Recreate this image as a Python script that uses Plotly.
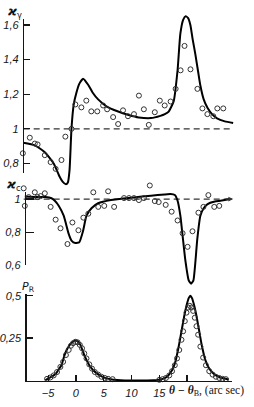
import plotly.graph_objects as go

W, H = 254, 407

# ---------------- data ----------------
# panel 1: kappa_gamma
theta_gamma_curve = [-9.5, -7.4, -5.6, -4.0, -2.95, -2.4, -1.8, -1.45, -1.15, -0.8, -0.4, 0.1, 0.6, 1.3, 2.2,
                     3.0, 4.0, 5.5, 7.6, 9.5, 11.3, 13.5, 15.2, 16.0, 16.7, 17.6, 18.3, 18.8, 19.3, 19.75,
                     20.2, 20.6, 21.0, 21.5, 22.0, 22.4, 23.0, 23.7, 24.5, 25.4, 26.8, 28.3]
kappa_gamma_curve = [0.92, 0.905, 0.865, 0.80, 0.725, 0.695, 0.68, 0.69, 0.76, 1.0, 1.14, 1.21, 1.26, 1.29, 1.255,
                     1.21, 1.17, 1.13, 1.10, 1.08, 1.066, 1.062, 1.075, 1.085, 1.10, 1.16, 1.34, 1.55, 1.63, 1.65,
                     1.64, 1.60, 1.52, 1.43, 1.33, 1.25, 1.17, 1.12, 1.085, 1.06, 1.043, 1.034]
theta_gamma_pts = [-9.55, -8.3, -7.4, -6.9, -5.6, -4.55, -3.65, -2.6, -1.9, -0.8, -0.1, 0.98, 1.87, 2.77, 3.84,
                   4.9, 5.62, 6.7, 7.6, 8.48, 9.37, 10.45, 11.34, 12.23, 13.12, 14.2, 15.1, 15.98, 17.05, 17.95,
                   18.84, 19.55, 20.62, 21.87, 22.77, 23.66, 24.73, 25.45, 26.52]
kappa_gamma_pts = [0.859, 0.949, 0.915, 0.910, 0.848, 0.808, 0.769, 0.820, 0.955, 1.0, 1.141, 1.124, 1.163, 1.101,
                   1.101, 1.135, 1.113, 1.068, 1.028, 1.107, 1.073, 1.085, 1.192, 1.113, 1.023, 1.096, 1.163, 1.135,
                   1.158, 1.231, 1.338, 1.479, 1.344, 1.231, 1.118, 1.085, 1.073, 1.118, 1.118]

# panel 2: kappa_c
theta_c_curve = [-9.2, -7.0, -5.5, -4.4, -3.8, -3.1, -2.2, -1.3, -0.8, -0.1, 0.6, 1.3, 1.9, 2.8, 4.0, 6.3, 10.4,
                 13.5, 16.0, 17.0, 17.8, 18.3, 18.8, 19.2, 19.7, 20.3, 20.75, 21.15, 21.5, 21.85, 22.4, 23.0,
                 23.7, 25.0, 26.0, 27.8]
kappa_c_curve = [1.015, 1.012, 1.012, 1.005, 0.99, 0.96, 0.90, 0.79, 0.75, 0.735, 0.74, 0.81, 0.90, 0.945, 0.975,
                 0.995, 1.01, 1.02, 1.028, 1.03, 1.025, 0.99, 0.90, 0.78, 0.63, 0.51, 0.49, 0.51, 0.62, 0.76,
                 0.90, 0.945, 0.97, 0.985, 0.99, 1.0]
theta_c_pts = [-9.4, -9.2, -8.5, -7.4, -6.9, -6.35, -5.6, -4.55, -3.65, -2.77, -1.52, -0.63, 0.45, 1.34, 2.23,
               3.13, 4.02, 5.1, 5.8, 6.88, 8.66, 9.55, 10.45, 11.34, 12.23, 13.3, 14.2, 14.9, 16.16, 17.23,
               18.3, 19.2, 20.1, 20.98, 22.05, 22.95, 23.84, 24.9, 25.8]
kappa_c_pts = [1.065, 0.959, 1.012, 1.041, 1.012, 1.018, 1.035, 0.953, 0.876, 0.824, 0.729, 0.859, 0.812, 0.888,
               0.912, 1.041, 0.953, 0.959, 1.047, 0.953, 1.006, 1.006, 1.006, 0.994, 1.006, 1.082, 0.988, 0.982,
               0.965, 0.924, 0.871, 0.794, 0.712, 0.806, 0.918, 0.953, 1.024, 0.953, 0.959]

# panel 3: P_R
theta_p_curve = [-5.5, -4.7, -4.0, -3.5, -3.0, -2.6, -2.05, -1.5, -1.0, -0.5, -0.1, 0.3, 0.8, 1.5, 2.0, 2.4, 3.0,
                 3.66, 4.3, 5.1, 6.5, 8.0, 10.0, 12.0, 14.0, 15.5, 16.5, 17.3, 17.9, 18.5, 19.0, 19.5, 19.9,
                 20.3, 20.6, 20.9, 21.3, 21.7, 22.2, 22.7, 23.3, 24.0, 25.0, 26.0, 27.5]
p_r_curve = [0.003, 0.017, 0.03, 0.045, 0.07, 0.09, 0.15, 0.19, 0.215, 0.23, 0.236, 0.232, 0.21, 0.15, 0.115,
             0.09, 0.065, 0.045, 0.03, 0.017, 0.006, 0.002, 0.0, 0.0, 0.001, 0.008, 0.025, 0.06, 0.11, 0.2, 0.29,
             0.38, 0.44, 0.485, 0.50, 0.485, 0.44, 0.38, 0.29, 0.2, 0.12, 0.07, 0.035, 0.018, 0.006]
theta_p_pts = [-5.2, -4.6, -4.0, -3.4, -2.8, -2.3, -1.8, -1.3, -0.9, -0.5, -0.1, 0.3, 0.7, 1.1, 1.5, 1.9, 2.4,
               2.9, 3.4, 4.0, 4.6, 5.2, 5.8, 6.6,
               15.0, 15.6, 16.2, 16.8, 17.3, 17.8, 18.2, 18.6, 19.0, 19.3, 19.6, 19.9, 20.2, 20.5, 20.8, 21.1,
               21.4, 21.7, 22.0, 22.4, 22.9, 23.4, 24.0, 24.6, 25.2, 25.8, 26.4, 27.0]
p_r_pts = [0.01, 0.018, 0.03, 0.05, 0.08, 0.11, 0.15, 0.18, 0.205, 0.22, 0.228, 0.225, 0.21, 0.19, 0.16, 0.13,
           0.095, 0.07, 0.05, 0.035, 0.022, 0.015, 0.01, 0.008,
           0.004, 0.008, 0.015, 0.03, 0.055, 0.09, 0.13, 0.18, 0.24, 0.29, 0.35, 0.40, 0.43, 0.44, 0.43, 0.41,
           0.37, 0.32, 0.27, 0.2, 0.135, 0.09, 0.055, 0.035, 0.022, 0.015, 0.01, 0.008]

# reference lines (value 1) and tick labels
ref_theta = [-9.4, 27.8]
ref_level = [1.0, 1.0]
x_tickvals = [-5, 0, 5, 10, 15]
x_ticktext = ["\u22125", "0", "5", "10", "15"]
x_minor_tickvals = [20]
g_tickvals = [0.8, 1.0, 1.2, 1.4, 1.6]
g_ticktext = ["0,8", "1", "1,2", "1,4", "1,6"]
c_tickvals = [0.6, 0.8, 1.0]
c_ticktext = ["0,6", "0,8", "1"]
p_tickvals = [0.25, 0.5]
p_ticktext = ["0,25", "0,5"]

# ---------------- layout geometry (pixels) ----------------
X0_PX, X_SC = 74.5, 5.6          # theta=0 at px 74.5, 5.6 px per arc sec
def th(px): return (px - X0_PX) / X_SC
def v1(py): return 1 + (128 - py) / 177.5
def v2(py): return 1 + (200 - py) / 170.0
def v3(py): return (386 - py) / 174.0
def fy(py): return 1 - py / H

INK = "#151515"
tickfont = dict(family="Liberation Sans", size=11, color=INK, style="italic")

fig = go.Figure()

mk = dict(symbol="circle-open", size=5, color="#333", line=dict(width=1, color="#333"))
curve_line = dict(color="black", width=2, shape="spline", smoothing=0.5)
dash_line = dict(color="#333", width=1.3, dash="6px,4px")

# panel 1
fig.add_trace(go.Scatter(x=ref_theta, y=ref_level, mode="lines", line=dash_line, xaxis="x", yaxis="y"))
fig.add_trace(go.Scatter(x=theta_gamma_curve, y=kappa_gamma_curve, mode="lines", line=curve_line, xaxis="x", yaxis="y"))
fig.add_trace(go.Scatter(x=theta_gamma_pts, y=kappa_gamma_pts, mode="markers", marker=mk, xaxis="x", yaxis="y"))
# panel 2
fig.add_trace(go.Scatter(x=ref_theta, y=ref_level, mode="lines", line=dash_line, xaxis="x", yaxis="y2"))
fig.add_trace(go.Scatter(x=theta_c_curve, y=kappa_c_curve, mode="lines", line=curve_line, xaxis="x", yaxis="y2"))
fig.add_trace(go.Scatter(x=theta_c_pts, y=kappa_c_pts, mode="markers", marker=mk, xaxis="x", yaxis="y2"))
# panel 3
fig.add_trace(go.Scatter(x=theta_p_curve, y=p_r_curve, mode="lines", line=curve_line, xaxis="x", yaxis="y3"))
fig.add_trace(go.Scatter(x=theta_p_pts, y=p_r_pts, mode="markers", marker=mk, xaxis="x", yaxis="y3"))
# empty traces so the visible axes exist
fig.add_trace(go.Scatter(x=[], y=[], xaxis="x", yaxis="y4"))
fig.add_trace(go.Scatter(x=[], y=[], xaxis="x", yaxis="y5"))
fig.add_trace(go.Scatter(x=[], y=[], xaxis="x2", yaxis="y6"))

hidden = dict(visible=False, showgrid=False, zeroline=False, fixedrange=True)
vis = dict(showline=True, linecolor=INK, linewidth=1.5, ticks="inside", ticklen=6, tickwidth=1.2,
           tickcolor=INK, showgrid=False, zeroline=False, tickfont=tickfont, fixedrange=True,
           ticklabelstandoff=2)

fig.update_layout(
    width=W, height=H, margin=dict(l=0, r=0, t=0, b=0),
    paper_bgcolor="white", plot_bgcolor="rgba(0,0,0,0)", showlegend=False, hovermode=False,
    xaxis=dict(domain=[0, 1], range=[th(0), th(W)], **hidden),
    yaxis=dict(domain=[0, 1], range=[v1(H), v1(0)], **hidden),
    yaxis2=dict(domain=[0, 1], range=[v2(H), v2(0)], overlaying="y", **hidden),
    yaxis3=dict(domain=[0, 1], range=[v3(H), v3(0)], overlaying="y", **hidden),
    yaxis4=dict(domain=[fy(173), fy(15)], range=[v1(173), v1(15)], anchor="free", position=21 / W,
                tickvals=g_tickvals, ticktext=g_ticktext, **vis),
    yaxis5=dict(domain=[fy(268), fy(193)], range=[v2(268), v2(193)], anchor="free", position=23 / W,
                tickvals=c_tickvals, ticktext=c_ticktext, **{**vis, "ticklen": 8}),
    yaxis6=dict(domain=[fy(386), fy(297)], range=[v3(386), v3(297)], anchor="x2",
                tickvals=p_tickvals, ticktext=p_ticktext, **vis),
    xaxis2=dict(domain=[25 / W, 232 / W], range=[th(25), th(232)], anchor="y6",
                tickvals=x_tickvals, ticktext=x_ticktext,
                minor=dict(tickvals=x_minor_tickvals, ticks="inside", ticklen=6, tickwidth=1.2, tickcolor=INK),
                **vis),
)

lab_font = dict(family="DejaVu Sans", size=12, color=INK)
fig.add_annotation(x=13 / W, y=fy(8), xref="paper", yref="paper", showarrow=False,
                   xanchor="center", yanchor="middle",
                   text="<b><i>\u03f0</i></b><sub>\u03b3</sub>", font=lab_font)
fig.add_annotation(x=12 / W, y=fy(186), xref="paper", yref="paper", showarrow=False,
                   xanchor="center", yanchor="middle",
                   text="<b><i>\u03f0</i></b><sub>c</sub>", font=lab_font)
fig.add_annotation(x=27 / W, y=fy(290), xref="paper", yref="paper", showarrow=False,
                   xanchor="center", yanchor="middle",
                   text="<i>P</i><sub>R</sub>", font=dict(family="DejaVu Sans", size=11, color=INK))
fig.add_annotation(x=166 / W, y=fy(397), xref="paper", yref="paper", showarrow=False,
                   xanchor="left", yanchor="middle",
                   text="<i><b>\u03b8 \u2212 \u03b8</b></i><sub>B</sub>, (arc sec)",
                   font=dict(family="Liberation Serif", size=11.5, color=INK))
# arrow at the end of the kappa_c reference line
fig.add_annotation(x=th(233), y=1.0, xref="x", yref="y2", ax=-9, ay=0, text="", showarrow=True,
                   arrowhead=2, arrowsize=0.8, arrowwidth=1.2, arrowcolor="#333")

fig.write_html("out.html", config={"displayModeBar": False, "staticPlot": True},
               post_script="document.body.style.margin='0';")
